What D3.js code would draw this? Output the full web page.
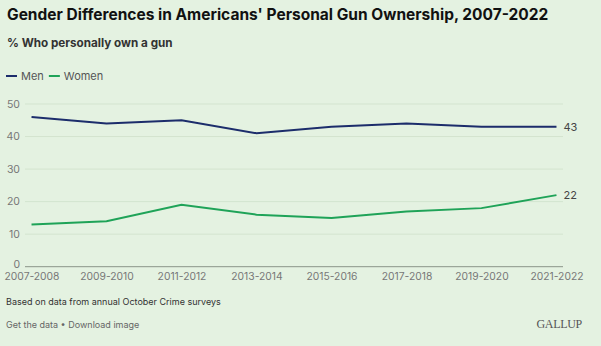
<!DOCTYPE html>
<html>
<head>
<meta charset="utf-8">
<script src="https://cdn.jsdelivr.net/npm/d3@7"></script>
<style>
  html, body { margin: 0; padding: 0; background: #e4f2e1; }
  svg { display: block; font-family: Inter, "Noto Sans", sans-serif; }
</style>
</head>
<body>
<div id="chart"></div>
<script>
// --------- DATA ---------
const periods = ["2007-2008", "2009-2010", "2011-2012", "2013-2014",
                 "2015-2016", "2017-2018", "2019-2020", "2021-2022"];
const men   = [46, 44, 45, 41, 43, 44, 43, 43];
const women = [13, 14, 19, 16, 15, 17, 18, 22];
const yTicks = [0, 10, 20, 30, 40, 50];

const series = [
  {name: "Men",   values: men,   color: "#1c2d6b"},
  {name: "Women", values: women, color: "#1fa358"}
];

// --------- CHART ---------
const width = 601, height = 346;
const plot = {left: 25, right: 563, top: 104, bottom: 266.7};

let svg = d3.select("#chart")
    .append("svg")
    .attr("width", width)
    .attr("height", height);

svg.append("rect")
    .attr("width", width).attr("height", height)
    .attr("fill", "#e4f2e1");

// Title and subtitle
svg.append("text")
    .attr("x", 7).attr("y", 20)
    .attr("font-size", 15.5).attr("font-weight", 700)
    .attr("fill", "#111")
    .text("Gender Differences in Americans' Personal Gun Ownership, 2007-2022");

svg.append("text")
    .attr("x", 7).attr("y", 47)
    .attr("font-size", 11.7).attr("font-weight", 700)
    .attr("fill", "#333")
    .text("% Who personally own a gun");

// Legend
let legend = svg.append("g").attr("transform", "translate(6,76)");
let lx = 0;
series.forEach(s => {
    legend.append("line")
        .attr("x1", lx).attr("x2", lx + 11)
        .attr("stroke", s.color).attr("stroke-width", 2);
    let t = legend.append("text")
        .attr("x", lx + 15).attr("y", 4)
        .attr("font-size", 11).attr("fill", "#555")
        .text(s.name);
    lx += 15 + t.node().getComputedTextLength() + 5;
});

// Scales
let xScale = d3.scalePoint()
    .domain(periods)
    .range([plot.left, plot.right])
    .padding(0.087);

let yScale = d3.scaleLinear()
    .domain([0, 50])
    .range([plot.bottom, plot.top]);

// Gridlines
svg.append("g")
    .selectAll("line")
    .data(yTicks.filter(d => d > 0))
    .join("line")
    .attr("x1", plot.left).attr("x2", plot.right)
    .attr("y1", d => yScale(d)).attr("y2", d => yScale(d))
    .attr("stroke", "#d3e4cf").attr("stroke-width", 1);

// Y axis labels
let yAxis = svg.append("g")
    .attr("transform", "translate(" + plot.left + ",0)")
    .call(d3.axisLeft(yScale).tickValues(yTicks).tickSize(0).tickPadding(5));
yAxis.select(".domain").remove();
yAxis.selectAll("text")
    .attr("font-family", "Inter, 'Noto Sans', sans-serif")
    .attr("font-size", 10.5).attr("fill", "#777");
// lift the zero label so it clears the period labels
yAxis.selectAll(".tick").filter(d => d === 0).select("text").attr("dy", "0.05em");

// X axis
let xAxis = svg.append("g")
    .attr("transform", "translate(0," + plot.bottom + ")")
    .call(d3.axisBottom(xScale).tickSize(0).tickPadding(6));
xAxis.select(".domain")
    .attr("d", "M" + plot.left + ",0H" + plot.right)
    .attr("stroke", "#8a9488").attr("stroke-width", 1);
xAxis.selectAll("text")
    .attr("font-family", "Inter, 'Noto Sans', sans-serif")
    .attr("font-size", 10.3).attr("fill", "#777");

// Lines
let line = d3.line()
    .x((d, i) => xScale(periods[i]))
    .y(d => yScale(d));

series.forEach(s => {
    svg.append("path")
        .attr("fill", "none")
        .attr("stroke", s.color)
        .attr("stroke-width", 2)
        .attr("d", line(s.values));

    let last = s.values.length - 1;
    svg.append("text")
        .attr("x", xScale(periods[last]) + 7)
        .attr("y", yScale(s.values[last]))
        .attr("dy", "0.35em")
        .attr("font-size", 11).attr("fill", "#444")
        .text(s.values[last]);
});

// Footer
svg.append("text")
    .attr("x", 6).attr("y", 305)
    .attr("font-size", 9).attr("fill", "#333")
    .text("Based on data from annual October Crime surveys");

svg.append("text")
    .attr("x", 6).attr("y", 328)
    .attr("font-size", 9).attr("fill", "#666")
    .text("Get the data \u2022 Download image");

svg.append("text")
    .attr("x", 582).attr("y", 328)
    .attr("text-anchor", "end")
    .attr("font-family", "'Liberation Serif', 'DejaVu Serif', serif")
    .attr("font-size", 12).attr("fill", "#555")
    .attr("letter-spacing", "-0.3")
    .text("GALLUP");
</script>
</body>
</html>
